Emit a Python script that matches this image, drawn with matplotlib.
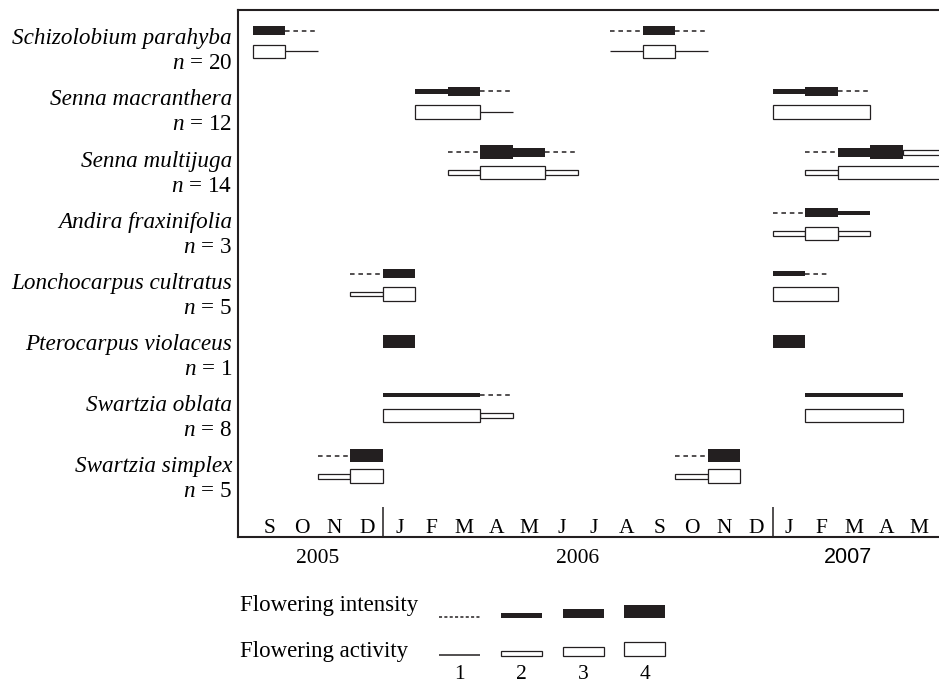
import matplotlib
matplotlib.use("Agg")
import matplotlib.pyplot as plt

plt.rcParams['font.family'] = ['Liberation Serif', 'DejaVu Serif']
plt.rcParams['mathtext.fontset'] = 'custom'
plt.rcParams['mathtext.it'] = 'Liberation Serif:italic'
plt.rcParams['mathtext.rm'] = 'Liberation Serif'

# months counted from Sep 2005 (0) up to May 2007 (20)
months = ["S", "O", "N", "D", "J", "F", "M", "A", "M", "J", "J", "A",
          "S", "O", "N", "D", "J", "F", "M", "A", "M"]
years = ["2005", "2006", "2007"]
year_mid = [2, 10, 18.3]
year_breaks = [4, 16]

species = ["Schizolobium parahyba", "Senna macranthera", "Senna multijuga",
           "Andira fraxinifolia", "Lonchocarpus cultratus", "Pterocarpus violaceus",
           "Swartzia oblata", "Swartzia simplex"]
n_trees = [20, 12, 14, 3, 5, 1, 8, 5]

# (start month, end month, level 1-4)
intensity = [
    [(0, 1, 3), (1, 2, 1), (11, 12, 1), (12, 13, 3), (13, 14, 1)],
    [(5, 6, 2), (6, 7, 3), (7, 8, 1), (16, 17, 2), (17, 18, 3), (18, 19, 1)],
    [(6, 7, 1), (7, 8, 4), (8, 9, 3), (9, 10, 1), (17, 18, 1), (18, 19, 3), (19, 20, 4)],
    [(16, 17, 1), (17, 18, 3), (18, 19, 2)],
    [(3, 4, 1), (4, 5, 3), (16, 17, 2), (17, 17.75, 1)],
    [(4, 5, 4), (16, 17, 4)],
    [(4, 7, 2), (7, 8, 1), (17, 20, 2)],
    [(2, 3, 1), (3, 4, 4), (13, 14, 1), (14, 15, 4)],
]
activity = [
    [(0, 1, 4), (1, 2, 1), (11, 12, 1), (12, 13, 4), (13, 14, 1)],
    [(5, 7, 4), (7, 8, 1), (16, 19, 4)],
    [(6, 7, 2), (7, 9, 4), (9, 10, 2), (17, 18, 2), (18, 21.6, 4)],
    [(16, 17, 2), (17, 18, 4), (18, 19, 2)],
    [(3, 4, 2), (4, 5, 4), (16, 18, 4)],
    [],
    [(4, 7, 4), (7, 8, 2), (17, 20, 4)],
    [(2, 3, 2), (3, 4, 4), (13, 14, 2), (14, 15, 4)],
]
# open thin bar on the intensity row of S. multijuga (2007)
multijuga_open_tail = [(20, 21.6, 2)]

ink = '#231f20'
int_h = {2: 4.6, 3: 9.0, 4: 13.3}
act_h = {2: 4.8, 3: 8.5, 4: 13.3}
dash = (0, (3, 2.5))


def draw_int(ax, y, s, e, lv):
    if lv == 1:
        ax.hlines(y, s, e, colors=ink, lw=1.1, linestyles=[dash], zorder=2)
    else:
        ax.barh(y, e - s, left=s, height=int_h[lv], color=ink, lw=0, zorder=3)


def draw_act(ax, y, s, e, lv):
    if lv == 1:
        ax.hlines(y, s, e, colors=ink, lw=0.9, zorder=2)
    else:
        ax.barh(y, e - s, left=s, height=act_h[lv], facecolor='white',
                edgecolor=ink, lw=0.9, zorder=2 + lv)


W, H = 939, 683
fig = plt.figure(figsize=(W / 100, H / 100), dpi=100)
ax = fig.add_axes([238 / W, (H - 537) / H, 1 - 238 / W, (537 - 10) / H])
ax.set_xlim(-0.46, 21.11)
ax.set_ylim(537, 10)
ax.set_xticks([])
ax.set_yticks([])
for side in ['left', 'top', 'bottom']:
    ax.spines[side].set_linewidth(1.5)
    ax.spines[side].set_color(ink)
ax.spines['right'].set_visible(False)

for i in range(len(species)):
    y_int = 30.7 + 60.7 * i
    y_act = y_int + 20.5
    if not activity[i]:
        y_int = y_int + 7
    for s, e, lv in intensity[i]:
        draw_int(ax, y_int, s, e, lv)
    for s, e, lv in activity[i]:
        draw_act(ax, y_act, s, e, lv)
    if species[i] == "Senna multijuga":
        for s, e, lv in multijuga_open_tail:
            draw_act(ax, y_int, s, e, lv)

    base = 44.3 + 61.1 * i
    fig.text(232 / W, 1 - base / H, species[i], style='italic', fontsize=16.7,
             ha='right', va='baseline')
    fig.text(232 / W, 1 - (base + 25) / H, r"$n$ = %d" % n_trees[i], fontsize=16.7,
             ha='right', va='baseline')

for m, lab in enumerate(months):
    ax.text(m + 0.5, 532.7, lab, fontsize=15.5, ha='center', va='baseline')
ax.vlines(year_breaks, 507, 537, colors=ink, lw=1.1)

for k, (yr, xm) in enumerate(zip(years, year_mid)):
    fam = 'Liberation Sans' if yr == "2007" else 'Liberation Serif'
    ax.text(xm, 562.7, yr, fontsize=15.5, family=fam, ha='center', va='baseline',
            clip_on=False)

# legend drawn in pixel coordinates
lax = fig.add_axes([0, 0, 1, 1])
lax.set_xlim(0, W)
lax.set_ylim(H, 0)
lax.axis('off')
lax.text(240, 610.5, "Flowering intensity", fontsize=16.5, va='baseline')
lax.text(240, 657, "Flowering activity", fontsize=16.5, va='baseline')
for k, lv in enumerate([1, 2, 3, 4]):
    x0 = 439 + 61.8 * k
    if lv == 1:
        lax.hlines(616.5, x0, x0 + 41, colors=ink, lw=1.1, linestyles=[(0, (2, 1.5))])
        lax.hlines(654.5, x0, x0 + 41, colors=ink, lw=1.1)
    else:
        lax.barh(618 - int_h[lv] / 2, 41, left=x0, height=int_h[lv], color=ink, lw=0)
        lax.barh(655.5 - act_h[lv] / 2, 41, left=x0, height=act_h[lv],
                 facecolor='white', edgecolor=ink, lw=0.9)
    lax.text(x0 + 20.5, 679, str(lv), fontsize=15.5, ha='center', va='baseline')

fig.savefig("out.png", dpi=100)
